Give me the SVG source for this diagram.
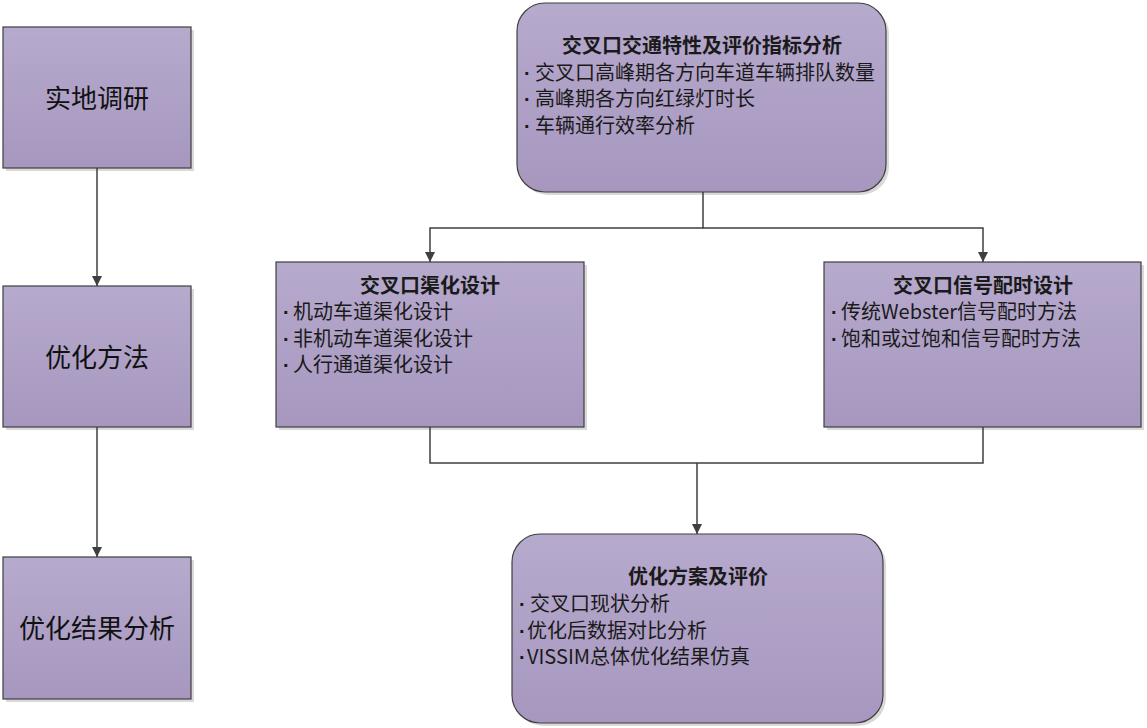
<svg xmlns="http://www.w3.org/2000/svg" width="1147" height="728" viewBox="0 0 1147 728">
<defs>
<linearGradient id="g" x1="0" y1="0" x2="0" y2="1">
<stop offset="0" stop-color="#b6aacd"/>
<stop offset="1" stop-color="#a797bf"/>
</linearGradient>
<marker id="arr" viewBox="0 0 10 10" refX="10" refY="5" markerWidth="10" markerHeight="10" markerUnits="userSpaceOnUse" orient="auto">
<path d="M0,0 L10,5 L0,10 z" fill="#3f3f3f"/>
</marker>
<style>
.box{fill:url(#g);stroke:#3f3f3f;stroke-width:1.2}
.sh{fill:#d9d9d9}
.big{font-family:"Noto Sans CJK SC","Liberation Sans",sans-serif;font-size:26px;fill:#111;text-anchor:middle}
.t{font-family:"Noto Sans CJK SC","Liberation Sans",sans-serif;font-size:20px;fill:#1a1a1a}
.d{font-family:"Liberation Sans",sans-serif;font-weight:bold}
.h{font-weight:bold;text-anchor:middle}
.c{fill:none;stroke:#3f3f3f;stroke-width:1.5}
</style>
</defs>
<rect width="1147" height="728" fill="#fff"/>

<g id="n-survey">
<rect class="sh" x="6" y="30" width="188" height="141"/>
<rect class="box" x="3" y="27" width="188" height="141"/>
<text class="big" x="97" y="108">实地调研</text>
</g>
<g id="n-method">
<rect class="sh" x="6" y="289" width="188" height="141"/>
<rect class="box" x="3" y="286" width="188" height="141"/>
<text class="big" x="97" y="367">优化方法</text>
</g>
<g id="n-result">
<rect class="sh" x="6" y="560" width="188" height="142"/>
<rect class="box" x="3" y="557" width="188" height="142"/>
<text class="big" x="97" y="638">优化结果分析</text>
</g>

<g id="n-analysis">
<rect class="sh" x="520" y="6" width="369" height="189" rx="28"/>
<rect class="box" x="517" y="3" width="369" height="189" rx="28"/>
<text class="t h" x="702" y="53">交叉口交通特性及评价指标分析</text>
<text class="t"><tspan class="d" x="524" y="79.5">·</tspan><tspan x="535">交叉口高峰期各方向车道车辆排队数量</tspan></text>
<text class="t"><tspan class="d" x="524" y="106">·</tspan><tspan x="535">高峰期各方向红绿灯时长</tspan></text>
<text class="t"><tspan class="d" x="524" y="132.5">·</tspan><tspan x="535">车辆通行效率分析</tspan></text>
</g>

<g id="n-channel">
<rect class="sh" x="279" y="265" width="308" height="165"/>
<rect class="box" x="276" y="262" width="308" height="165"/>
<text class="t h" x="430" y="292.5">交叉口渠化设计</text>
<text class="t"><tspan class="d" x="283" y="319">·</tspan><tspan x="293">机动车道渠化设计</tspan></text>
<text class="t"><tspan class="d" x="283" y="345.5">·</tspan><tspan x="293">非机动车道渠化设计</tspan></text>
<text class="t"><tspan class="d" x="283" y="372">·</tspan><tspan x="293">人行通道渠化设计</tspan></text>
</g>

<g id="n-signal">
<rect class="sh" x="827" y="265" width="317" height="165"/>
<rect class="box" x="824" y="262" width="317" height="165"/>
<text class="t h" x="983" y="292.5">交叉口信号配时设计</text>
<text class="t"><tspan class="d" x="831" y="319">·</tspan><tspan x="841">传统Webster信号配时方法</tspan></text>
<text class="t"><tspan class="d" x="831" y="345.5">·</tspan><tspan x="841">饱和或过饱和信号配时方法</tspan></text>
</g>

<g id="n-plan">
<rect class="sh" x="515" y="537" width="371" height="189" rx="28"/>
<rect class="box" x="512" y="534" width="371" height="189" rx="28"/>
<text class="t h" x="698" y="584">优化方案及评价</text>
<text class="t"><tspan class="d" x="519" y="611">·</tspan><tspan x="530">交叉口现状分析</tspan></text>
<text class="t"><tspan class="d" x="519" y="637.5">·</tspan><tspan x="527">优化后数据对比分析</tspan></text>
<text class="t"><tspan class="d" x="519" y="664">·</tspan><tspan x="527">VISSIM总体优化结果仿真</tspan></text>
</g>

<g id="connectors">
<path class="c" d="M97,168 V286" marker-end="url(#arr)"/>
<path class="c" d="M97,427 V557" marker-end="url(#arr)"/>
<path class="c" d="M703,192 V228 H430 V262" marker-end="url(#arr)"/>
<path class="c" d="M703,228 H983 V262" marker-end="url(#arr)"/>
<path class="c" d="M430,427 V463 H983 V427"/>
<path class="c" d="M697,463 V534" marker-end="url(#arr)"/>
</g>
</svg>
